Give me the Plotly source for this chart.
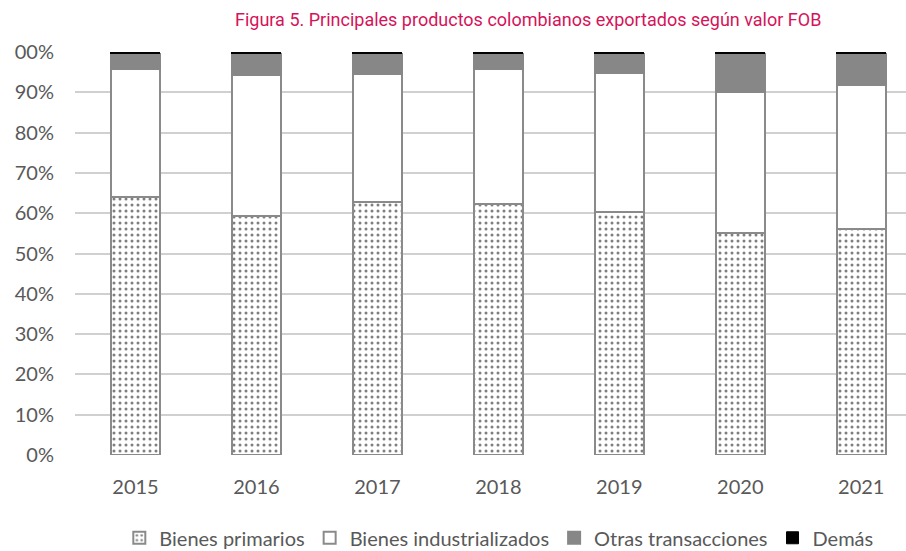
import plotly.graph_objects as go

# datos (porcentaje del valor FOB)
anios = ["2015", "2016", "2017", "2018", "2019", "2020", "2021"]
bienes_primarios = [64.0, 59.3, 62.9, 62.4, 60.4, 55.0, 56.2]
bienes_industrializados = [31.8, 35.0, 31.7, 33.4, 34.3, 35.0, 35.6]
otras_transacciones = [3.8, 5.3, 5.0, 3.8, 4.9, 9.6, 7.8]
demas = [0.4, 0.4, 0.4, 0.4, 0.4, 0.4, 0.4]

ytick_vals = [0, 10, 20, 30, 40, 50, 60, 70, 80, 90, 100]
ytick_text = ["0%", "10%", "20%", "30%", "40%", "50%", "60%", "70%", "80%", "90%", "00%"]

borde = dict(color="#8a8a8a", width=2)
ancho = 0.405
gris_texto = "#595959"

fig = go.Figure()

fig.add_trace(go.Bar(
    x=anios, y=bienes_primarios, name="Bienes primarios", width=ancho,
    marker=dict(color="white", line=borde,
                pattern=dict(shape=".", fgcolor="black", bgcolor="white",
                             size=6, solidity=0.2)),
))
fig.add_trace(go.Bar(
    x=anios, y=bienes_industrializados, name="Bienes industrializados", width=ancho,
    marker=dict(color="white", line=borde),
))
fig.add_trace(go.Bar(
    x=anios, y=otras_transacciones, name="Otras transacciones", width=ancho,
    marker=dict(color="#878787", line=dict(color="#878787", width=2)),
))
fig.add_trace(go.Bar(
    x=anios, y=demas, name="Demás", width=ancho,
    marker=dict(color="black", line=dict(color="black", width=1)),
))

fig.update_layout(
    barmode="stack",
    width=906,
    height=551,
    margin=dict(l=75, r=0, t=52, b=96, autoexpand=False),
    paper_bgcolor="white",
    plot_bgcolor="white",
    title=dict(
        text="Figura 5. Principales productos colombianos exportados según valor FOB",
        x=0.583, xref="container", xanchor="center", y=0.964, yanchor="middle",
        font=dict(family="Roboto", size=18, color="#d4145a"),
    ),
    font=dict(family="Lato", size=20, color=gris_texto),
    legend=dict(
        orientation="h", x=0.51, xanchor="center",
        yref="container", y=0.024, yanchor="middle",
        font=dict(family="Lato", size=20, color=gris_texto),
        traceorder="normal", itemwidth=30,
    ),
    showlegend=True,
)

fig.update_xaxes(
    type="category", range=[-0.5, 6.37],
    showgrid=False, showline=False, ticks="", automargin=False,
    ticklabelstandoff=18,
    tickfont=dict(family="Lato", size=20, color=gris_texto),
)
fig.update_yaxes(
    range=[0, 100], tickvals=ytick_vals, ticktext=ytick_text,
    showgrid=True, gridcolor="#d0d0d0", gridwidth=2,
    zeroline=False, showline=False, ticks="", automargin=False,
    ticklabelstandoff=20,
    tickfont=dict(family="Lato", size=20, color=gris_texto),
)

fig.write_html("out.html", config={"displayModeBar": False},
               post_script="document.body.style.margin='0';")
